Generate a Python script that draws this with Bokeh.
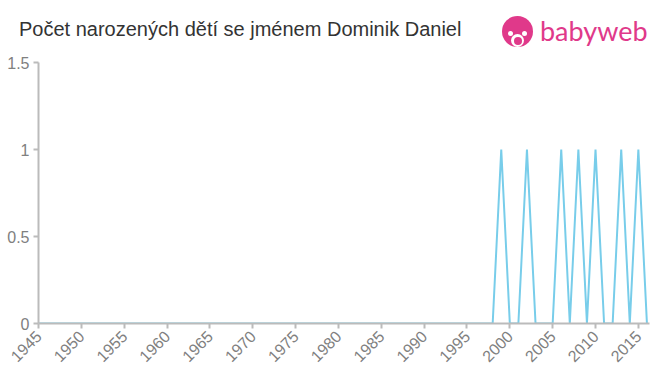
from bokeh.plotting import figure
from bokeh.models import Range1d, FixedTicker, Div
from bokeh.layouts import column
from bokeh.embed import file_html
from bokeh.resources import INLINE

years = list(range(1945, 2017))
peak_years = [1999, 2002, 2006, 2008, 2010, 2013, 2015]
counts = [1 if y in peak_years else 0 for y in years]
x_ticks = list(range(1945, 2020, 5))
y_ticks = [0, 0.5, 1, 1.5]
y_labels = {0: "0", 0.5: "0.5", 1: "1", 1.5: "1.5"}
title_text = "Počet narozených dětí se jménem Dominik Daniel"
logo_text = "babyweb"

PINK = "#e0398a"

header_html = f"""
<div style="position:relative;width:660px;height:52px;overflow:hidden;">
  <span style="position:absolute;left:19px;top:18px;font-family:'Liberation Sans';font-size:20px;
        line-height:23px;color:#333333;white-space:nowrap;">{title_text}</span>
  <div style="position:absolute;left:502px;top:16px;width:31px;height:31px;border-radius:50%;background:{PINK};"></div>
  <div style="position:absolute;left:508px;top:31px;width:5px;height:5px;border-radius:50%;background:white;"></div>
  <div style="position:absolute;left:522px;top:31px;width:5px;height:5px;border-radius:50%;background:white;"></div>
  <div style="position:absolute;left:511px;top:34px;width:13px;height:13px;border-radius:50%;background:white;"></div>
  <div style="position:absolute;left:514px;top:37px;width:8px;height:8px;border-radius:50%;background:{PINK};"></div>
  <span style="position:absolute;left:540px;top:15px;font-family:'Lato';font-size:27px;
        line-height:32px;color:{PINK};white-space:nowrap;">{logo_text}</span>
</div>
"""
head = Div(text=header_html, width=660, height=52, margin=0)

p = figure(width=660, height=323, output_backend="svg", toolbar_location=None,
           x_range=Range1d(1945, 2016.3), y_range=Range1d(0, 1.5),
           min_border_left=38, min_border_right=11, min_border_top=10, min_border_bottom=52)
p.line(years, counts, line_color="#78cdea", line_width=2)

p.xgrid.visible = False
p.ygrid.visible = False
p.outline_line_color = None
for ax in (p.xaxis[0], p.yaxis[0]):
    ax.axis_line_color = "#bbbbbb"
    ax.axis_line_width = 2
    ax.major_tick_line_color = "#bbbbbb"
    ax.major_tick_line_width = 2
    ax.major_tick_in = 0
    ax.major_tick_out = 5
    ax.minor_tick_line_color = None
    ax.major_label_text_color = "#808080"
    ax.major_label_text_font = "Liberation Sans"
    ax.major_label_text_font_size = "16px"
p.xaxis.ticker = FixedTicker(ticks=x_ticks)
p.xaxis.major_label_orientation = 0.785
p.yaxis.ticker = FixedTicker(ticks=y_ticks)
p.yaxis.major_label_overrides = {k: v for k, v in y_labels.items()}
p.yaxis.major_label_standoff = 4

layout = column(head, p, spacing=0)
open("out.html", "w").write(file_html(layout, INLINE))
